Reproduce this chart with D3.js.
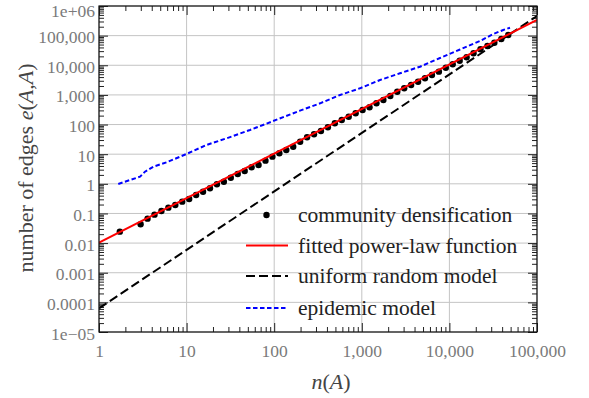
<!DOCTYPE html>
<html>
<head>
<meta charset="utf-8">
<script src="https://cdn.jsdelivr.net/npm/d3@7"></script>
<style>
  body { margin: 0; background: #fff; }
  svg { display: block; }
  text { font-family: "Liberation Serif", "DejaVu Serif", serif; }
</style>
</head>
<body>
<svg width="589" height="398"></svg>
<script>
// Axis ticks and labels
const tickX = [1, 10, 100, 1000, 10000, 100000];
const tickXLabels = ["1", "10", "100", "1,000", "10,000", "100,000"];
const tickY = [1e-5, 1e-4, 1e-3, 1e-2, 1e-1, 1, 10, 100, 1e3, 1e4, 1e5, 1e6];
const tickYLabels = ["1e\u221205", "0.0001", "0.001", "0.01", "0.1", "1", "10", "100",
                     "1,000", "10,000", "100,000", "1e+06"];

// Community densification (community size n(A), internal edges e(A,A))
const commSize = [1.728, 2.986, 3.583, 4.300, 5.160, 6.192, 7.430, 8.916, 10.70, 12.84,
                  15.41, 18.49, 22.19, 26.62, 31.95, 38.34, 46.01, 55.21, 66.25, 79.50,
                  95.40, 114.5, 137.4, 164.8, 197.8, 237.4, 284.9, 341.8, 410.2, 492.2,
                  590.7, 708.8, 850.6, 1021, 1225, 1470, 1764, 2116, 2540, 3048,
                  3657, 4389, 5266, 6320, 7584, 9100, 10920, 13104, 15725, 18870,
                  22644, 27173, 32607, 39129, 46955];
const commEdges = [0.0243, 0.0432, 0.0667, 0.0910, 0.121, 0.157, 0.193, 0.250, 0.308, 0.420,
                   0.543, 0.707, 0.964, 1.18, 1.61, 2.15, 2.71, 3.62, 4.32, 6.04,
                   8.24, 10.7, 13.9, 17.9, 26.4, 37.2, 46.9, 60.6, 80.8, 110,
                   142, 184, 240, 310, 382, 521, 674, 920, 1284, 1672,
                   2161, 2795, 3637, 4699, 6081, 8285, 10790, 14280, 18590, 25350,
                   34600, 44700, 57760, 77050, 105100];

// Fitted power-law function
const fitN = [1, 100000];
const fitE = [0.0103, 337000];

// Uniform random model
const uniformN = [1, 100000];
const uniformE = [6.3e-5, 4.6e5];

// Epidemic model
const epidemicN = [1.66, 2.94, 3.35, 4.17, 5.93, 10.0, 16.9, 28.7, 52.9, 197,
                   334, 564, 953, 1614, 2729, 4616, 7810, 13210, 22340, 31700,
                   41210, 49170];
const epidemicE = [0.99, 1.74, 2.57, 3.79, 5.33, 10.2, 20.5, 34.4, 65.5, 294,
                   521, 993, 1671, 3184, 5358, 8954, 17600, 34070, 65920, 113500,
                   154900, 185300];

const legendLabels = ["community densification", "fitted power-law function",
                      "uniform random model", "epidemic model"];

// Plot box
const plotLeft = 99, plotRight = 537, plotTop = 6, plotBottom = 332;
const serif = "'Liberation Serif', 'DejaVu Serif', serif";

const svg = d3.select("svg");

const x = d3.scaleLog().domain([1, 100000]).range([plotLeft, plotRight]);
const y = d3.scaleLog().domain([1e-5, 1e6]).range([plotBottom, plotTop]);

// minor ticks 2..9 in each decade
function minorTicks(lo, hi) {
    const out = [];
    for (let d = lo; d < hi; d *= 10) {
        for (let k = 2; k <= 9; k++) out.push(d * k);
    }
    return out;
}
const minorX = minorTicks(1, 100000);
const minorY = minorTicks(1e-5, 1e6);

svg.append("defs").append("clipPath")
    .attr("id", "plotClip")
    .append("rect")
    .attr("x", plotLeft).attr("y", plotTop)
    .attr("width", plotRight - plotLeft).attr("height", plotBottom - plotTop);

// Grid lines
const grid = svg.append("g").attr("class", "grid");
grid.selectAll("line.gx")
    .data(tickX)
    .join("line")
    .attr("x1", d => x(d)).attr("x2", d => x(d))
    .attr("y1", plotTop).attr("y2", plotBottom)
    .attr("stroke", "#c4c4c4").attr("stroke-width", 1);
grid.selectAll("line.gy")
    .data(tickY)
    .join("line")
    .attr("class", "gy")
    .attr("x1", plotLeft).attr("x2", plotRight)
    .attr("y1", d => y(d)).attr("y2", d => y(d))
    .attr("stroke", "#c4c4c4").attr("stroke-width", 1);

// Axes (ticks pointing inward on all four sides)
function styleAxis(g) {
    g.select(".domain").remove();
    g.attr("font-family", null);
    g.selectAll(".tick line").attr("stroke", "#222").attr("stroke-width", 1);
    g.selectAll("text")
        .attr("fill", "#7a7a7a")
        .style("font-family", serif)
        .style("font-size", "17.5px");
}

const majorLen = 9, minorLen = 5;

svg.append("g")
    .attr("transform", `translate(0,${plotBottom})`)
    .call(d3.axisBottom(x).tickValues(tickX).tickSize(-majorLen).tickPadding(12.5)
        .tickFormat((d, i) => tickXLabels[i]))
    .call(styleAxis);
svg.append("g")
    .attr("transform", `translate(0,${plotBottom})`)
    .call(d3.axisBottom(x).tickValues(minorX).tickSize(-minorLen).tickFormat(""))
    .call(styleAxis);
svg.append("g")
    .attr("transform", `translate(0,${plotTop})`)
    .call(d3.axisTop(x).tickValues(tickX).tickSize(-majorLen).tickFormat(""))
    .call(styleAxis);
svg.append("g")
    .attr("transform", `translate(0,${plotTop})`)
    .call(d3.axisTop(x).tickValues(minorX).tickSize(-minorLen).tickFormat(""))
    .call(styleAxis);

const yAxisG = svg.append("g")
    .attr("transform", `translate(${plotLeft},0)`)
    .call(d3.axisLeft(y).tickValues(tickY).tickSize(-majorLen).tickPadding(4)
        .tickFormat((d, i) => tickYLabels[i]))
    .call(styleAxis);
yAxisG.selectAll("text").attr("dy", (d, i) => i === tickY.length - 1 ? "0.6em" : "0.4em");
svg.append("g")
    .attr("transform", `translate(${plotLeft},0)`)
    .call(d3.axisLeft(y).tickValues(minorY).tickSize(-minorLen).tickFormat(""))
    .call(styleAxis);
svg.append("g")
    .attr("transform", `translate(${plotRight},0)`)
    .call(d3.axisRight(y).tickValues(tickY).tickSize(-majorLen).tickFormat(""))
    .call(styleAxis);
svg.append("g")
    .attr("transform", `translate(${plotRight},0)`)
    .call(d3.axisRight(y).tickValues(minorY).tickSize(-minorLen).tickFormat(""))
    .call(styleAxis);

// Series
const plot = svg.append("g").attr("clip-path", "url(#plotClip)");
const line = d3.line().x(d => x(d[0])).y(d => y(d[1]));

plot.append("path")
    .datum(d3.zip(uniformN, uniformE))
    .attr("d", line)
    .attr("fill", "none").attr("stroke", "#000")
    .attr("stroke-width", 2).attr("stroke-dasharray", "9,4");

plot.append("path")
    .datum(d3.zip(epidemicN, epidemicE))
    .attr("d", line)
    .attr("fill", "none").attr("stroke", "#0000ff")
    .attr("stroke-width", 2).attr("stroke-dasharray", "4.5,2.5");

plot.selectAll("circle.comm")
    .data(d3.zip(commSize, commEdges))
    .join("circle")
    .attr("class", "comm")
    .attr("cx", d => x(d[0])).attr("cy", d => y(d[1]))
    .attr("r", 3.2).attr("fill", "#000");

plot.append("path")
    .datum(d3.zip(fitN, fitE))
    .attr("d", line)
    .attr("fill", "none").attr("stroke", "#ff0000")
    .attr("stroke-width", 2);

// Frame
svg.append("rect")
    .attr("x", plotLeft).attr("y", plotTop)
    .attr("width", plotRight - plotLeft).attr("height", plotBottom - plotTop)
    .attr("fill", "none").attr("stroke", "#111").attr("stroke-width", 1.2);

// Legend
const legendRows = [215, 245.5, 276, 308];
const legend = svg.append("g").attr("class", "legend");
const lx0 = 246, lx1 = 288, textX = 298;

legend.append("circle")
    .attr("cx", (lx0 + lx1) / 2 - 0.5).attr("cy", legendRows[0])
    .attr("r", 3.2).attr("fill", "#000");
legend.append("line")
    .attr("x1", lx0).attr("x2", lx1).attr("y1", legendRows[1]).attr("y2", legendRows[1])
    .attr("stroke", "#ff0000").attr("stroke-width", 2);
legend.append("line")
    .attr("x1", lx0).attr("x2", lx1).attr("y1", legendRows[2]).attr("y2", legendRows[2])
    .attr("stroke", "#000").attr("stroke-width", 2).attr("stroke-dasharray", "9,4");
legend.append("line")
    .attr("x1", lx0).attr("x2", lx1).attr("y1", legendRows[3]).attr("y2", legendRows[3])
    .attr("stroke", "#0000ff").attr("stroke-width", 2).attr("stroke-dasharray", "4.5,2.5");

legend.selectAll("text")
    .data(legendLabels)
    .join("text")
    .attr("x", textX)
    .attr("y", (d, i) => legendRows[i] + 7)
    .attr("fill", "#222")
    .style("font-family", serif)
    .style("font-size", "21.5px")
    .text(d => d);

// Axis titles
const xTitle = svg.append("text")
    .attr("x", 331).attr("y", 389)
    .attr("text-anchor", "middle")
    .attr("fill", "#444")
    .style("font-family", serif)
    .style("font-size", "22px");
xTitle.append("tspan").style("font-style", "italic").text("n");
xTitle.append("tspan").text("(");
xTitle.append("tspan").style("font-style", "italic").text("A");
xTitle.append("tspan").text(")");

const yTitle = svg.append("text")
    .attr("transform", "translate(33,168) rotate(-90)")
    .attr("text-anchor", "middle")
    .attr("fill", "#444")
    .style("font-family", serif)
    .style("font-size", "22px");
yTitle.append("tspan").text("number of edges ");
yTitle.append("tspan").style("font-style", "italic").text("e");
yTitle.append("tspan").text("(");
yTitle.append("tspan").style("font-style", "italic").text("A");
yTitle.append("tspan").text(",");
yTitle.append("tspan").style("font-style", "italic").text("A");
yTitle.append("tspan").text(")");
</script>
</body>
</html>
